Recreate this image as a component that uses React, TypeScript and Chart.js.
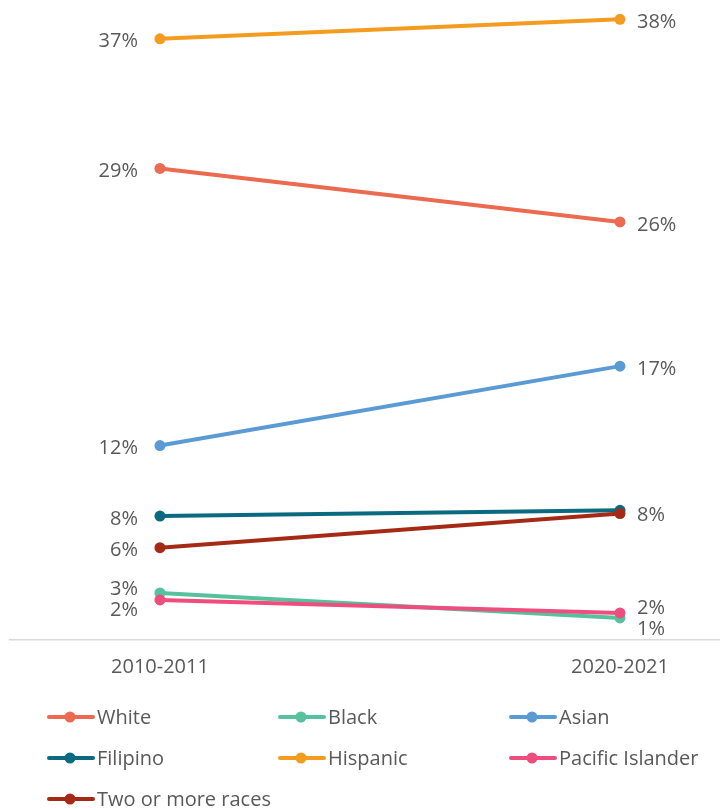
import React, { useEffect, useRef } from "react";
import { Chart, registerables } from "chart.js";

Chart.register(...registerables);

const categories = ["2010-2011", "2020-2021"];
const seriesNames = ["White", "Black", "Asian", "Filipino", "Hispanic", "Pacific Islander", "Two or more races"];
const white = [29.1, 25.8];
const black = [2.9, 1.36];
const asian = [12.0, 16.9];
const filipino = [7.65, 8.0];
const hispanic = [37.1, 38.3];
const pacific = [2.47, 1.67];
const twoOrMore = [5.7, 7.8];
const seriesValues = [white, black, asian, filipino, hispanic, pacific, twoOrMore];
const seriesColors = ["#EB6A50", "#55C29D", "#5B9BD5", "#0C6A80", "#F39C1F", "#EE4D7E", "#A52A16"];

const FONT = "'Open Sans', 'Noto Sans', sans-serif";
const TEXT = "#595959";

const labelsPlugin = {
  id: "slopeLabels",
  afterDatasetsDraw(chart: any) {
    const ctx = chart.ctx;
    ctx.save();
    ctx.font = `20px ${FONT}`;
    ctx.fillStyle = TEXT;
    ctx.textBaseline = "middle";
    [0, 1].forEach((side) => {
      let items: { y: number; text: string; n: number }[] = [];
      let px = 0;
      chart.data.datasets.forEach((ds: any, i: number) => {
        const meta = chart.getDatasetMeta(i);
        const pt = meta.data[side];
        px = pt.x;
        items.push({ y: pt.y + 3, text: Math.round(ds.data[side].y) + "%", n: 1 });
      });
      items.sort((a, b) => a.y - b.y);
      const merged: typeof items = [];
      items.forEach((it) => {
        const last = merged[merged.length - 1];
        if (last && last.text === it.text && Math.abs(last.y - it.y) < 12) {
          last.y = (last.y * last.n + it.y) / (last.n + 1);
          last.n += 1;
        } else merged.push({ ...it });
      });
      const gap = 21;
      for (let iter = 0; iter < 20; iter++) {
        let moved = false;
        for (let k = 1; k < merged.length; k++) {
          const d = merged[k].y - merged[k - 1].y;
          if (d < gap) {
            const push = (gap - d) / 2;
            merged[k].y += push;
            merged[k - 1].y -= push;
            moved = true;
          }
        }
        if (!moved) break;
      }
      ctx.textAlign = side === 0 ? "right" : "left";
      const x = side === 0 ? px - 22 : px + 17;
      merged.forEach((it) => ctx.fillText(it.text, x, it.y));
    });
    ctx.restore();
  },
  afterDraw(chart: any) {
    const ctx = chart.ctx;
    ctx.save();
    ctx.font = `20px ${FONT}`;
    ctx.textBaseline = "middle";
    ctx.textAlign = "left";
    chart.data.datasets.forEach((ds: any, i: number) => {
      const col = i % 3;
      const row = Math.floor(i / 3);
      const x = 47 + col * 231;
      const y = 717 + row * 41;
      ctx.strokeStyle = ds.borderColor;
      ctx.lineWidth = 4;
      ctx.lineCap = "round";
      ctx.beginPath();
      ctx.moveTo(x + 2, y);
      ctx.lineTo(x + 46, y);
      ctx.stroke();
      ctx.fillStyle = ds.borderColor;
      ctx.beginPath();
      ctx.arc(x + 23, y, 5.5, 0, Math.PI * 2);
      ctx.fill();
      ctx.fillStyle = TEXT;
      ctx.fillText(ds.label, x + 50, y + 1);
    });
    ctx.restore();
  },
};

export default function App() {
  const ref = useRef<HTMLCanvasElement>(null);
  useEffect(() => {
    document.body.style.margin = "0";
    const n = seriesNames.length;
    const chart = new Chart(ref.current!, {
      type: "line",
      data: {
        datasets: seriesNames.map((name, i) => ({
          label: name,
          data: seriesValues[i].map((v, j) => ({ x: j, y: v })),
          borderColor: seriesColors[i],
          backgroundColor: seriesColors[i],
          pointBackgroundColor: seriesColors[i],
          pointBorderColor: seriesColors[i],
          borderWidth: 4,
          pointRadius: 5.5,
          pointBorderWidth: 0,
          tension: 0,
          order: n - i,
          clip: false,
        })),
      },
      options: {
        animation: false,
        responsive: false,
        layout: { autoPadding: false, padding: { left: 10, right: 0, top: 8, bottom: 116 } },
        plugins: { legend: { display: false }, tooltip: { enabled: false } },
        scales: {
          x: {
            type: "linear",
            min: -0.326,
            max: 1.2174,
            afterBuildTicks: (scale: any) => {
              scale.ticks = categories.map((_, j) => ({ value: j }));
            },
            afterFit: (scale: any) => {
              scale.paddingLeft = 0;
              scale.paddingRight = 0;
            },
            ticks: {
              callback: (v: any) => categories[v as number] ?? "",
              color: TEXT,
              font: { family: FONT, size: 20 },
              padding: 15,
              maxRotation: 0,
              autoSkip: false,
            },
            grid: { display: false, drawTicks: false },
            border: { display: true, color: "#d9d9d9", width: 1.5 },
          },
          y: { display: false, min: 0, max: 39 },
        },
      },
      plugins: [labelsPlugin],
    });
    return () => chart.destroy();
  }, []);
  return (
    <div style={{ width: 720, height: 810 }}>
      <canvas ref={ref} width={720} height={810} style={{ display: "block" }} />
    </div>
  );
}
